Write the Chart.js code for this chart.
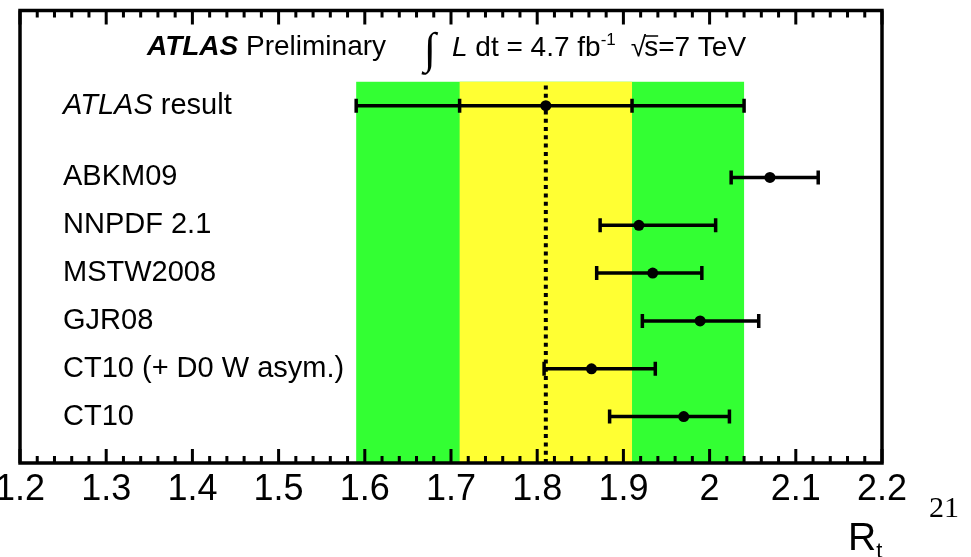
<!DOCTYPE html>
<html>
<head>
<meta charset="utf-8">
<script src="https://cdn.jsdelivr.net/npm/chart.js@4.4.1/dist/chart.umd.min.js"></script>
<style>
  html, body { margin: 0; padding: 0; background: #fff; }
  canvas { display: block; }
</style>
</head>
<body>
<canvas id="rtChart" width="971" height="557"></canvas>
<script>
// PDF sets and their R_t predictions (row 1 = bottom)
const pdfNames = ["CT10", "CT10 (+ D0 W asym.)", "GJR08", "MSTW2008", "NNPDF 2.1", "ABKM09"];
const pdfRows = [1, 2, 3, 4, 5, 6];
const pdfCentral = [1.970, 1.863, 1.989, 1.934, 1.918, 2.070];
const pdfLow = [1.884, 1.808, 1.922, 1.869, 1.873, 2.025];
const pdfHigh = [2.023, 1.937, 2.057, 1.991, 2.007, 2.126];

// measured value with stat (inner) and total (outer) uncertainty
const atlasRow = 7.5;
const atlasCentral = 1.81;
const atlasStat = [1.71, 1.91];
const atlasTotal = [1.59, 2.04];
const bandTop = 8;

const majorTicks = [1.2, 1.3, 1.4, 1.5, 1.6, 1.7, 1.8, 1.9, 2.0, 2.1, 2.2];
const tickLabels = ["1.2", "1.3", "1.4", "1.5", "1.6", "1.7", "1.8", "1.9", "2", "2.1", "2.2"];

const X_MIN = 1.2, X_MAX = 2.2, Y_MIN = 0.03, Y_MAX = 9.49;
const FONT = "'Liberation Sans', Arial, Helvetica, sans-serif";
const SERIF = "'Liberation Serif', 'Times New Roman', serif";

const datasets = [];

// dotted line through the central value
datasets.push({
  type: "line",
  data: [{ x: atlasCentral, y: Y_MIN }, { x: atlasCentral, y: bandTop }],
  borderColor: "#000",
  borderWidth: 4,
  borderDash: [4, 4.3],
  pointRadius: 0,
  order: 3,
});

// error bars: horizontal line, caps drawn as rotated 'line' points
const barStyle = {
  type: "line",
  borderColor: "#000",
  borderWidth: 3.5,
  pointStyle: "line",
  pointRotation: 90,
  pointRadius: 7,
  pointBorderWidth: 3.5,
  pointBorderColor: "#000",
  order: 2,
};
datasets.push(Object.assign({}, barStyle, {
  data: [atlasTotal[0], atlasStat[0], atlasStat[1], atlasTotal[1]].map(v => ({ x: v, y: atlasRow })),
}));
pdfRows.forEach((row, i) => {
  datasets.push(Object.assign({}, barStyle, {
    data: [{ x: pdfLow[i], y: row }, { x: pdfHigh[i], y: row }],
  }));
});

// central markers
datasets.push({
  type: "scatter",
  data: pdfRows.map((row, i) => ({ x: pdfCentral[i], y: row })).concat([{ x: atlasCentral, y: atlasRow }]),
  pointStyle: "circle",
  pointRadius: 5.5,
  pointBackgroundColor: "#000",
  pointBorderColor: "#000",
  pointBorderWidth: 0,
  order: 1,
});

const bandsPlugin = {
  id: "bands",
  beforeDatasetsDraw(chart) {
    const { ctx, scales: { x, y } } = chart;
    const top = y.getPixelForValue(bandTop);
    const bottom = y.getPixelForValue(Y_MIN);
    ctx.save();
    ctx.fillStyle = "#33ff33";
    ctx.fillRect(x.getPixelForValue(atlasTotal[0]), top,
      x.getPixelForValue(atlasTotal[1]) - x.getPixelForValue(atlasTotal[0]), bottom - top);
    ctx.fillStyle = "#ffff33";
    ctx.fillRect(x.getPixelForValue(atlasStat[0]), top,
      x.getPixelForValue(atlasStat[1]) - x.getPixelForValue(atlasStat[0]), bottom - top);
    ctx.restore();
  },
};

function drawRuns(ctx, x, y, runs) {
  runs.forEach(r => {
    ctx.font = r.font;
    ctx.fillText(r.text, x, y + (r.dy || 0));
    x += ctx.measureText(r.text).width;
  });
  return x;
}

const framePlugin = {
  id: "frame",
  afterDraw(chart) {
    const { ctx, chartArea: a, scales: { x, y } } = chart;
    ctx.save();
    ctx.strokeStyle = "#000";
    ctx.fillStyle = "#000";

    // ticks on top and bottom edges, pointing inward
    ctx.lineWidth = 3;
    ctx.beginPath();
    for (let i = 0; i <= 50; i++) {
      const v = X_MIN + i * 0.02;
      const px = x.getPixelForValue(v);
      const len = i % 5 === 0 ? 14 : 7;
      ctx.moveTo(px, a.bottom); ctx.lineTo(px, a.bottom - len);
      ctx.moveTo(px, a.top); ctx.lineTo(px, a.top + len);
    }
    ctx.stroke();

    ctx.lineWidth = 3.5;
    ctx.strokeRect(a.left, a.top, a.right - a.left, a.bottom - a.top);

    // tick labels
    ctx.textAlign = "center";
    ctx.textBaseline = "alphabetic";
    ctx.font = "36px " + FONT;
    majorTicks.forEach((v, i) => {
      ctx.fillText(tickLabels[i], x.getPixelForValue(v), 500);
    });

    // axis title
    ctx.textAlign = "left";
    drawRuns(ctx, 848, 550, [
      { text: "R", font: "39px " + FONT },
      { text: "t", font: "22px " + FONT, dy: 8 },
    ]);
    ctx.font = "30px " + SERIF;
    ctx.fillText("21", 929, 517);

    // header
    drawRuns(ctx, 147, 55, [
      { text: "ATLAS", font: "italic bold 28px " + FONT },
      { text: " Preliminary", font: "28px " + FONT },
    ]);
    ctx.font = "italic 44px " + SERIF;
    ctx.fillText("\u222B", 424, 63);
    let cx = drawRuns(ctx, 452, 56, [
      { text: "L", font: "italic 28px " + FONT },
      { text: " dt = 4.7 fb", font: "28px " + FONT },
      { text: "-1", font: "17px " + FONT, dy: -11 },
    ]);
    cx += 15;
    ctx.font = "28px " + FONT;
    ctx.fillText("\u221A", cx, 56);
    cx += ctx.measureText("\u221A").width - 2;
    const sw = ctx.measureText("s").width;
    ctx.lineWidth = 1.5;
    ctx.beginPath();
    ctx.moveTo(cx, 36); ctx.lineTo(cx + sw, 36);
    ctx.stroke();
    drawRuns(ctx, cx, 56, [{ text: "s=7 TeV", font: "28px " + FONT }]);

    // row labels
    ctx.textBaseline = "middle";
    drawRuns(ctx, 63, y.getPixelForValue(atlasRow), [
      { text: "ATLAS", font: "italic 29px " + FONT },
      { text: " result", font: "29px " + FONT },
    ]);
    ctx.font = "29px " + FONT;
    pdfRows.forEach((row, i) => {
      ctx.fillText(pdfNames[i], 63, y.getPixelForValue(row));
    });
    ctx.restore();
  },
};

new Chart(document.getElementById("rtChart"), {
  type: "scatter",
  data: { datasets },
  options: {
    responsive: false,
    animation: false,
    layout: { padding: { left: 20, right: 89, top: 10, bottom: 94 } },
    plugins: { legend: { display: false }, tooltip: { enabled: false } },
    scales: {
      x: { type: "linear", min: X_MIN, max: X_MAX, display: false },
      y: { type: "linear", min: Y_MIN, max: Y_MAX, display: false },
    },
  },
  plugins: [bandsPlugin, framePlugin],
});
</script>
</body>
</html>
